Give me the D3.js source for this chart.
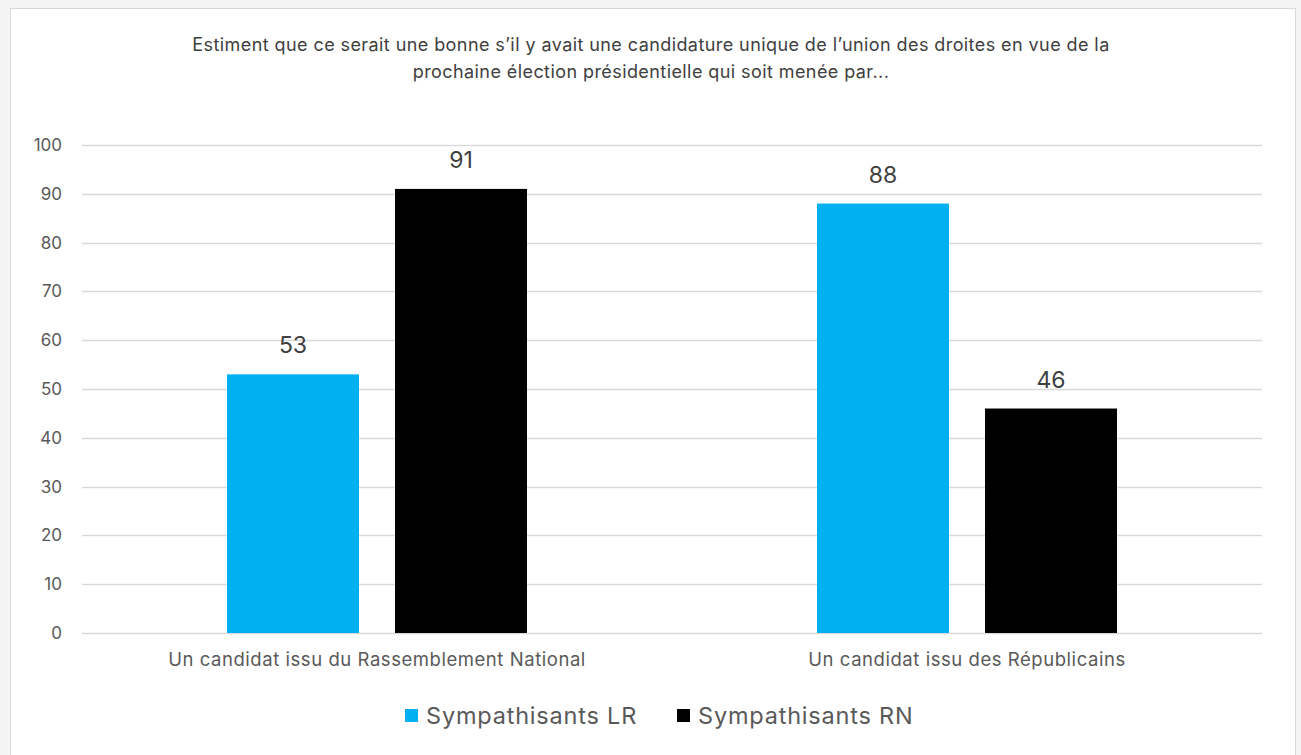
<!DOCTYPE html>
<html>
<head>
<meta charset="utf-8">
<script src="https://cdn.jsdelivr.net/npm/d3@7"></script>
<style>
    body { margin: 0; background: #f2f2f2; }
    svg { display: block; }
    text { font-family: Inter, "Open Sans", sans-serif; }
</style>
</head>
<body>
<script>
// Data
let categories = ["Un candidat issu du Rassemblement National", "Un candidat issu des Républicains"];
let seriesNames = ["Sympathisants LR", "Sympathisants RN"];
let seriesColors = ["#00b0f0", "#000000"];
let valuesLR = [53, 88];
let valuesRN = [91, 46];
let yTicks = [0, 10, 20, 30, 40, 50, 60, 70, 80, 90, 100];
let titleLines = [
    "Estiment que ce serait une bonne s’il y avait une candidature unique de l’union des droites en vue de la",
    "prochaine élection présidentielle qui soit menée par..."
];

let W = 1301, H = 755;
let margin = { top: 145, right: 39, bottom: 122, left: 82 };

let svg = d3.select("body")
    .append("svg")
    .attr("width", W)
    .attr("height", H);

// Frame
svg.append("rect")
    .attr("x", 0).attr("y", 0).attr("width", W).attr("height", H)
    .attr("fill", "#f4f4f4");
svg.append("rect")
    .attr("x", 10.5).attr("y", 8.5).attr("width", 1285).attr("height", 760)
    .attr("fill", "#ffffff")
    .attr("stroke", "#d9d9d9");

let x0 = d3.scaleBand()
    .domain(categories)
    .range([margin.left, W - margin.right]);

// two bars of 132px with a 36px gap, centred in each band
let x1 = d3.scaleBand()
    .domain(seriesNames)
    .range([145, x0.bandwidth() - 145])
    .paddingInner(36 / 168);

let y = d3.scaleLinear()
    .domain([0, 100])
    .range([H - margin.bottom, margin.top]);

// Grid
svg.append("g")
    .selectAll("line")
    .data(yTicks)
    .enter()
    .append("line")
    .attr("x1", margin.left)
    .attr("x2", W - margin.right)
    .attr("y1", d => Math.round(y(d)) + 0.5)
    .attr("y2", d => Math.round(y(d)) + 0.5)
    .attr("stroke", "#d9d9d9")
    .attr("stroke-width", 1.5);

// Y axis labels
svg.append("g")
    .selectAll("text")
    .data(yTicks)
    .enter()
    .append("text")
    .attr("x", 62)
    .attr("y", d => y(d))
    .attr("dy", "0.35em")
    .attr("text-anchor", "end")
    .attr("fill", "#595959")
    .style("font-size", "17px")
    .text(d => d);

// Bars
let rows = categories.map((c, i) => ({ category: c, values: [valuesLR[i], valuesRN[i]] }));

let groups = svg.append("g")
    .selectAll("g")
    .data(rows)
    .enter()
    .append("g")
    .attr("transform", d => `translate(${x0(d.category)},0)`);

groups.selectAll("rect")
    .data(d => d.values.map((v, j) => ({ series: seriesNames[j], value: v, color: seriesColors[j] })))
    .enter()
    .append("rect")
    .attr("x", d => x1(d.series))
    .attr("width", x1.bandwidth())
    .attr("y", d => y(d.value))
    .attr("height", d => y(0) - y(d.value))
    .attr("fill", d => d.color);

groups.selectAll(".value")
    .data(d => d.values.map((v, j) => ({ series: seriesNames[j], value: v })))
    .enter()
    .append("text")
    .attr("class", "value")
    .attr("x", d => x1(d.series) + x1.bandwidth() / 2)
    .attr("y", d => y(d.value) - 21)
    .attr("text-anchor", "middle")
    .attr("fill", "#404040")
    .style("font-size", "23px")
    .text(d => d.value);

// Category labels
svg.append("g")
    .selectAll("text")
    .data(categories)
    .enter()
    .append("text")
    .attr("x", d => x0(d) + x0.bandwidth() / 2)
    .attr("y", 666)
    .attr("text-anchor", "middle")
    .attr("fill", "#595959")
    .style("font-size", "18.5px")
    .style("letter-spacing", "0.55px")
    .text(d => d);

// Title
svg.append("g")
    .selectAll("text")
    .data(titleLines)
    .enter()
    .append("text")
    .attr("x", 651)
    .attr("y", (d, i) => 51 + i * 27)
    .attr("text-anchor", "middle")
    .attr("fill", "#404040")
    .style("font-size", "18px")
    .style("letter-spacing", "0.42px")
    .text(d => d);

// Legend
let legendX = [405, 677];
let legend = svg.append("g")
    .selectAll("g")
    .data(seriesNames)
    .enter()
    .append("g")
    .attr("transform", (d, i) => `translate(${legendX[i]},709)`);

legend.append("rect")
    .attr("width", 13)
    .attr("height", 13)
    .attr("fill", (d, i) => seriesColors[i]);

legend.append("text")
    .attr("x", 21)
    .attr("y", 7)
    .attr("dy", "0.35em")
    .attr("fill", "#595959")
    .style("font-size", "23.5px")
    .style("letter-spacing", "0.8px")
    .text(d => d);
</script>
</body>
</html>
